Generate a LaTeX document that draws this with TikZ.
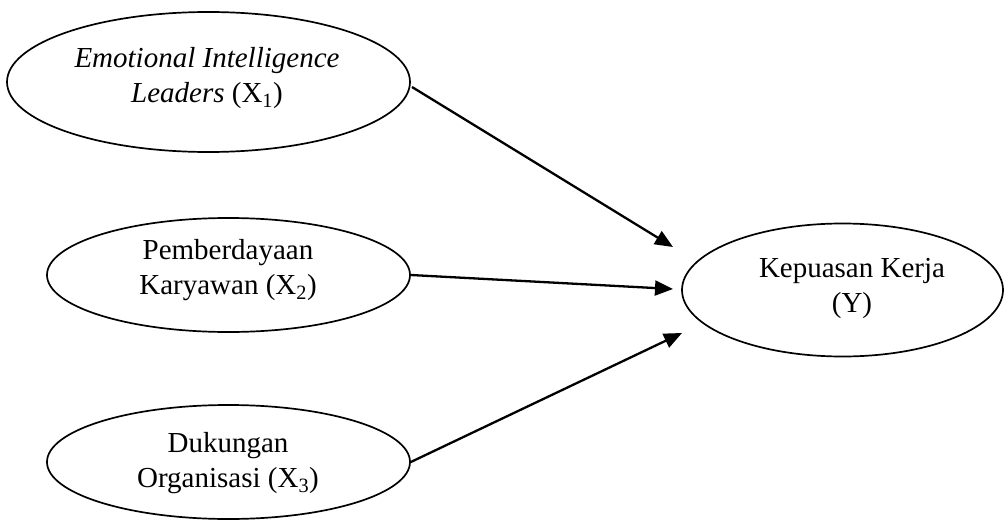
\documentclass[tikz,border=0pt]{standalone}
\usepackage{fontspec}
\setmainfont{Liberation Serif}
\usetikzlibrary{arrows.meta,shapes.geometric}
\begin{document}
\begin{tikzpicture}[x=1pt,y=-1pt,
  ell/.style={draw,ellipse,line width=1.7pt,inner sep=0pt},
  lbl/.style={align=center,font=\fontsize{29}{35}\selectfont,inner sep=0pt},
  arr/.style={line width=2.3pt,-{Triangle[length=18pt,width=15pt]}}]
\useasboundingbox (0,0) rectangle (1005,522);
\node[ell,minimum width=403pt,minimum height=140pt] (e1) at (208.5,82) {};
\node[ell,minimum width=363pt,minimum height=114pt] (e2) at (228.5,275) {};
\node[ell,minimum width=363pt,minimum height=114pt] (e3) at (228.5,462) {};
\node[ell,minimum width=321pt,minimum height=133pt] (ey) at (842.5,290) {};
\node[lbl] (t1) at (207,78) {\itshape Emotional Intelligence\\\itshape Leaders \upshape(X\textsubscript{1})};
\node[lbl] (t2) at (228,270.5) {Pemberdayaan\\Karyawan (X\textsubscript{2})};
\node[lbl] (t3) at (228,463.5) {Dukungan\\Organisasi (X\textsubscript{3})};
\node[lbl] (ty) at (852,288.5) {Kepuasan Kerja\\(Y)};
\coordinate (p1) at (673,247);
\coordinate (p2) at (673,289);
\coordinate (p3) at (682,333);
\coordinate (s1) at (412,87);
\draw[arr] (s1) -- (p1);
\draw[arr] (e2.east) -- (p2);
\draw[arr] (e3.east) -- (p3);
\end{tikzpicture}
\end{document}
